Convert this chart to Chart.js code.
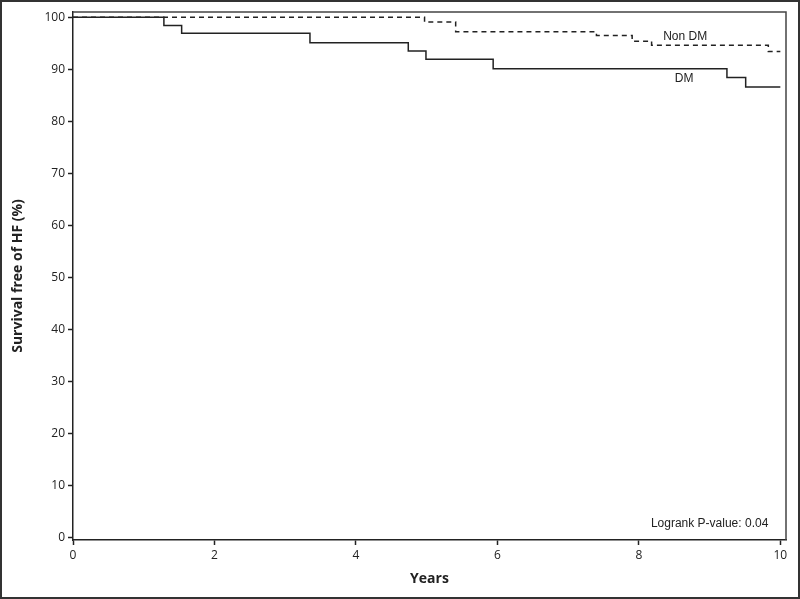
<!DOCTYPE html>
<html>
<head>
<meta charset="utf-8">
<script src="https://cdn.jsdelivr.net/npm/chart.js@4"></script>
<style>
  body { margin: 0; background: #fff; }
  canvas { display: block; }
</style>
</head>
<body>
<canvas id="km" width="800" height="599"></canvas>
<script>
// Kaplan-Meier curves, step points (years, % free of HF)
const dmYears = [0, 1.285, 1.536, 3.35, 4.74, 4.99, 5.94, 9.245, 9.51, 10];
const dmSurv = [100, 98.4, 96.9, 95.1, 93.5, 91.9, 90.1, 88.4, 86.6, 86.6];
const nonDmYears = [0, 4.97, 5.41, 7.40, 7.905, 8.18, 9.83, 10];
const nonDmSurv = [100, 99.1, 97.2, 96.5, 95.4, 94.6, 93.4, 93.4];
const xTicks = [0, 2, 4, 6, 8, 10];
const yTicks = [0, 10, 20, 30, 40, 50, 60, 70, 80, 90, 100];

const ink = '#222';
const toPts = (xs, ys) => xs.map((x, i) => ({ x: x, y: ys[i] }));

// frame, outer border and text labels
const extras = {
  id: 'extras',
  afterDraw(chart) {
    const c = chart.ctx;
    const a = chart.chartArea;
    const sx = chart.scales.x, sy = chart.scales.y;
    c.save();
    c.strokeStyle = '#444';
    c.lineWidth = 1.5;
    c.beginPath();
    c.moveTo(a.left, a.top);
    c.lineTo(a.right, a.top);
    c.lineTo(a.right, a.bottom);
    c.stroke();
    c.strokeStyle = '#333';
    c.lineWidth = 2;
    c.strokeRect(1, 1, chart.width - 2, chart.height - 2);

    c.fillStyle = ink;
    c.font = '12px "Liberation Sans", Arial, sans-serif';
    c.textBaseline = 'middle';
    c.textAlign = 'center';
    c.fillText('Non DM', sx.getPixelForValue(8.655), sy.getPixelForValue(96.3));
    c.fillText('DM', sx.getPixelForValue(8.64), sy.getPixelForValue(88.2));
    c.textAlign = 'right';
    c.fillText('Logrank P-value: 0.04', sx.getPixelForValue(9.83), sy.getPixelForValue(2.6));
    c.restore();
  }
};

const tickFont = { family: '"Open Sans", sans-serif', size: 12 };
const titleFont = { family: '"Open Sans", sans-serif', size: 14, weight: 'bold' };

new Chart(document.getElementById('km').getContext('2d'), {
  type: 'line',
  data: {
    datasets: [{
      label: 'DM',
      data: toPts(dmYears, dmSurv),
      stepped: 'before',
      borderColor: ink,
      borderWidth: 1.5,
      pointRadius: 0,
      fill: false
    }, {
      label: 'Non DM',
      data: toPts(nonDmYears, nonDmSurv),
      stepped: 'before',
      borderColor: ink,
      borderWidth: 1.5,
      borderDash: [5, 4],
      pointRadius: 0,
      fill: false
    }]
  },
  options: {
    responsive: false,
    animation: false,
    layout: { padding: { left: 0, top: 12, right: 14, bottom: 0 } },
    plugins: { legend: { display: false }, tooltip: { enabled: false } },
    scales: {
      x: {
        type: 'linear',
        min: 0,
        max: 10.08,
        afterBuildTicks: s => { s.ticks = xTicks.map(v => ({ value: v })); },
        afterFit: s => { s.height = 59; },
        ticks: { color: ink, font: tickFont, padding: 3, maxRotation: 0 },
        grid: { drawOnChartArea: false, tickLength: 5, color: ink, tickWidth: 1.5 },
        border: { color: ink, width: 1.5 },
        title: { display: true, text: 'Years', color: ink, font: titleFont, padding: { top: 0, bottom: 12 } }
      },
      y: {
        type: 'linear',
        min: -0.5,
        max: 101,
        afterBuildTicks: s => { s.ticks = yTicks.map(v => ({ value: v })); },
        afterFit: s => { s.width = 73; },
        ticks: { color: ink, font: tickFont, padding: 3 },
        grid: { drawOnChartArea: false, tickLength: 5, color: ink, tickWidth: 1.5 },
        border: { color: ink, width: 1.5 },
        title: { display: true, text: 'Survival free of HF (%)', color: ink, font: titleFont, padding: { top: 10, bottom: 0 } }
      }
    }
  },
  plugins: [extras]
});
</script>
</body>
</html>
